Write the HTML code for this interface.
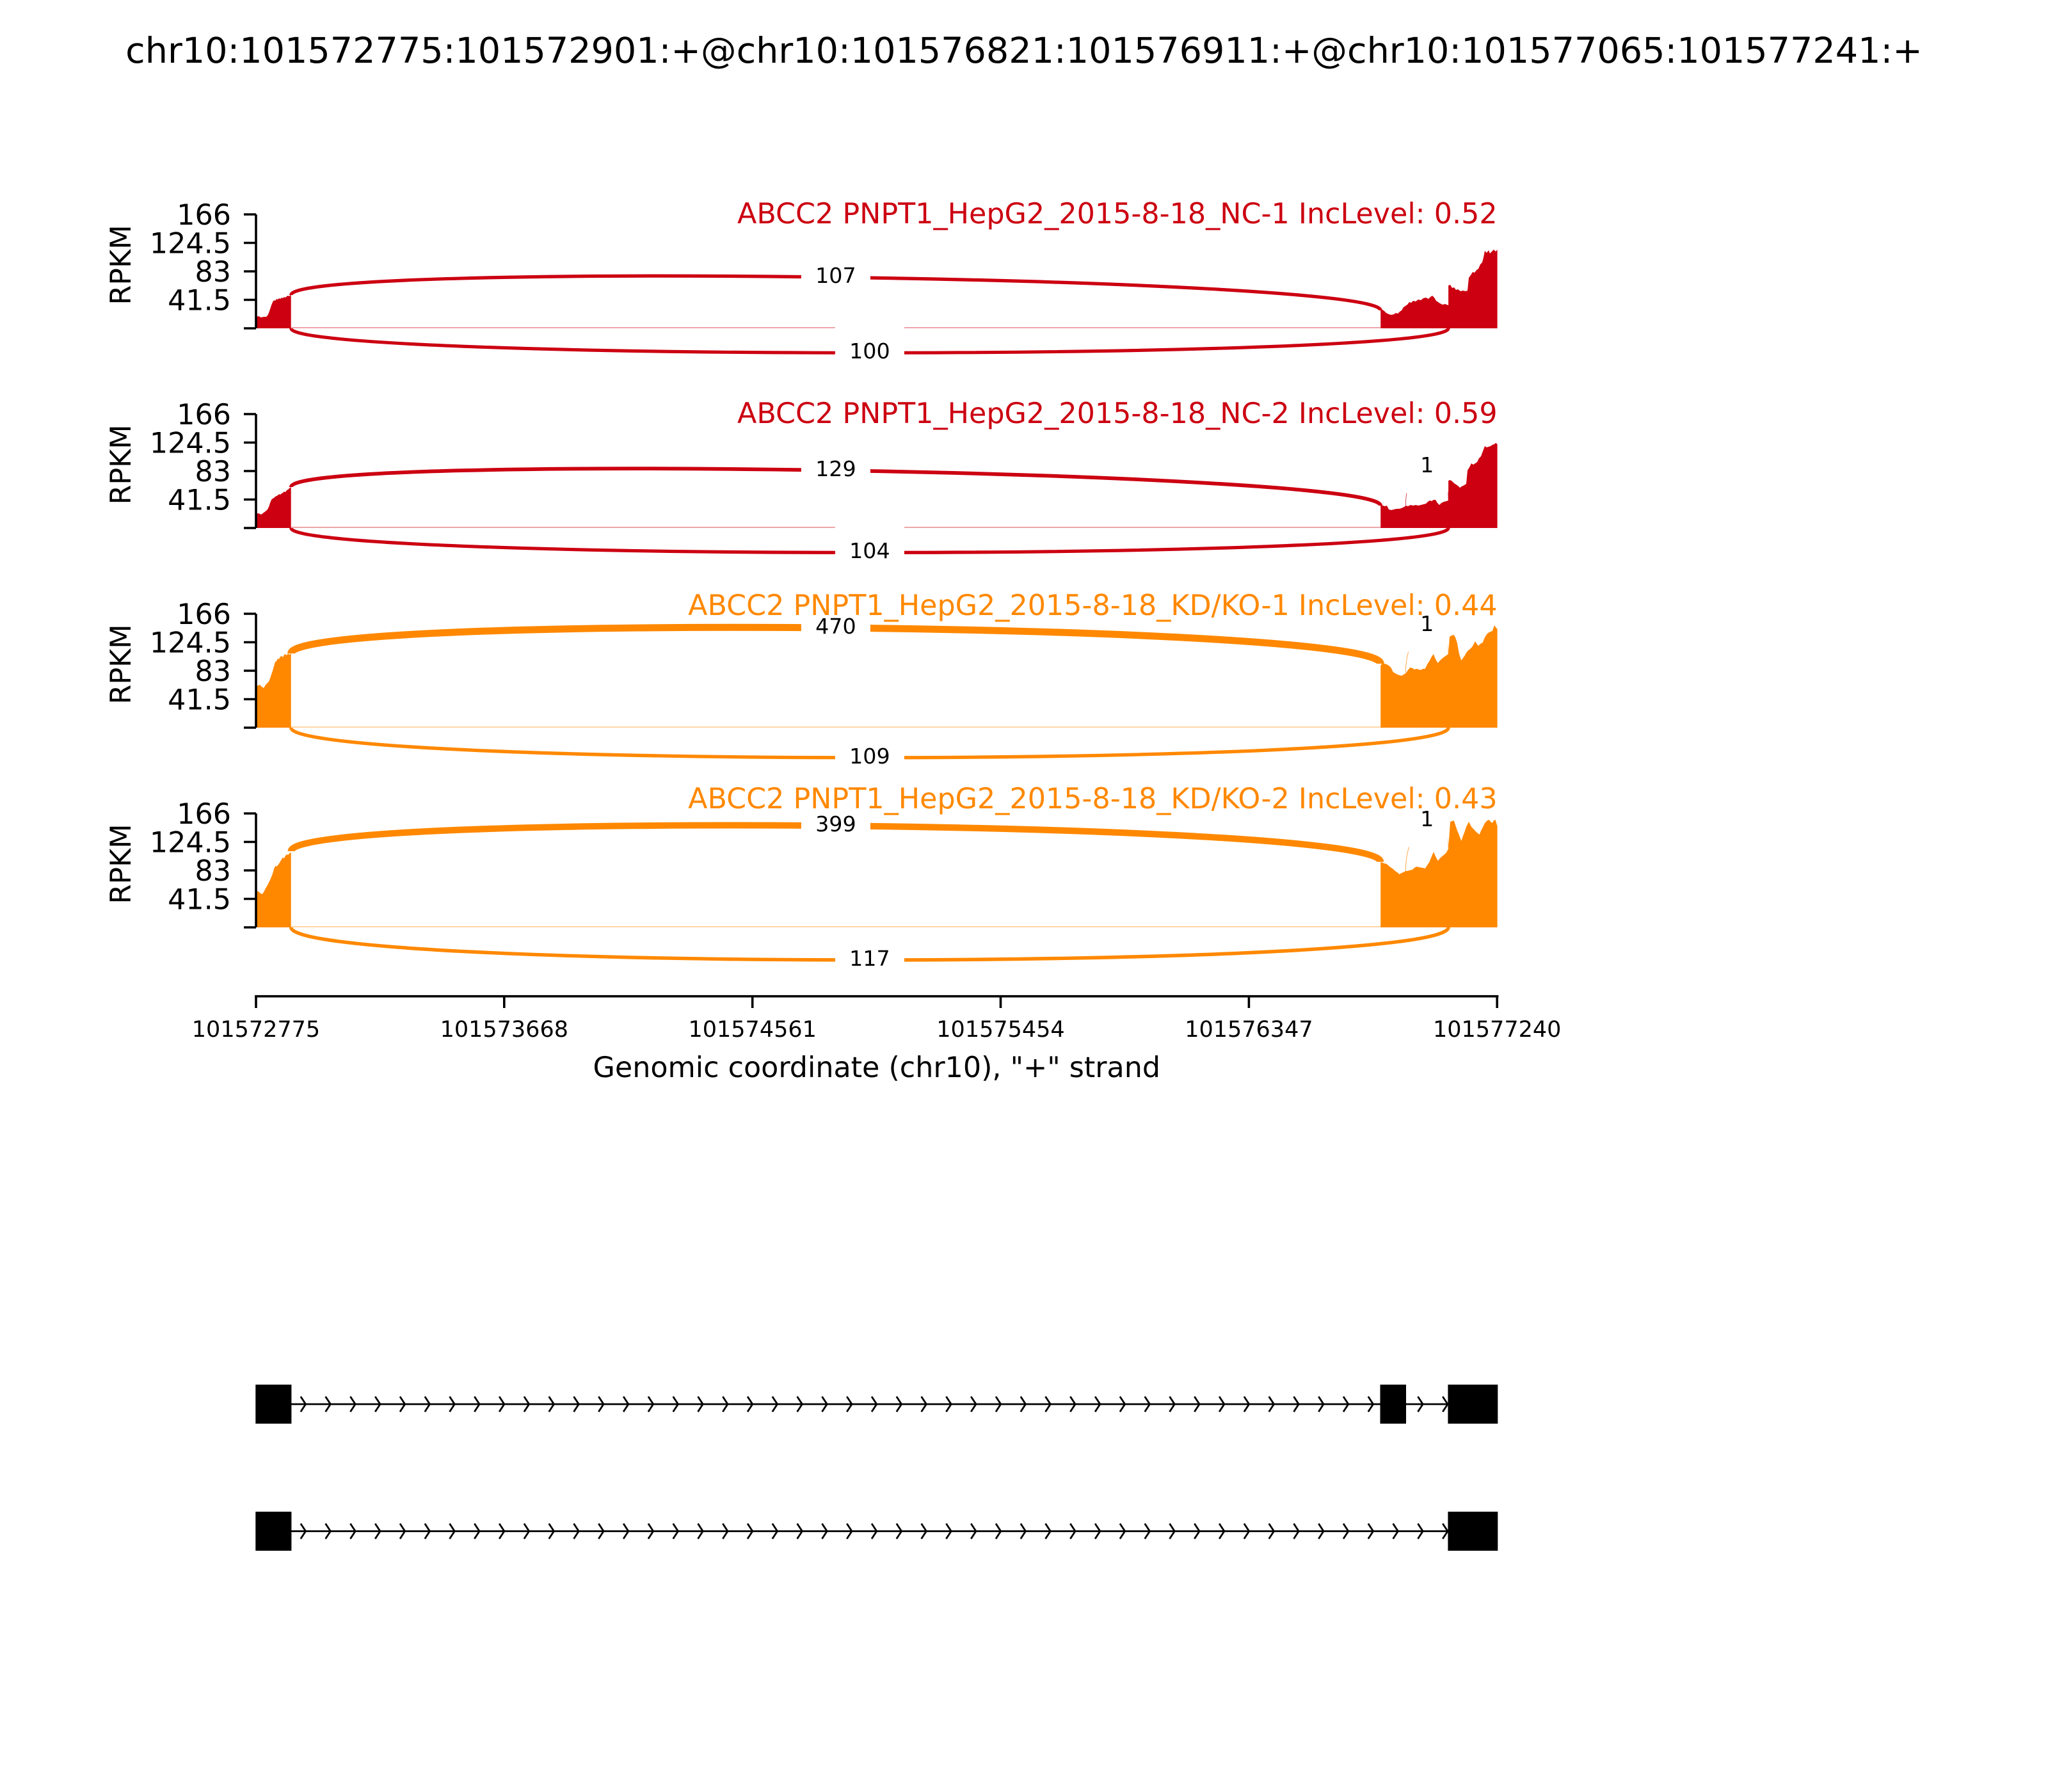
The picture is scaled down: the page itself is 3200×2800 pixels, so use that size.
<!DOCTYPE html>
<html>
<head>
<meta charset="utf-8">
<style>
  html, body { margin: 0; padding: 0; background: #ffffff; }
  svg { display: block; }
  text { font-family: "DejaVu Sans", "Liberation Sans", sans-serif; }
</style>
</head>
<body>
<svg xmlns="http://www.w3.org/2000/svg" width="3200" height="2800" viewBox="0 0 3200 2800">
  <rect x="0" y="0" width="3200" height="2800" fill="#ffffff"/>

  <!-- Title -->
  <text x="1600" y="98" font-size="55.6" text-anchor="middle" fill="#000">chr10:101572775:101572901:+@chr10:101576821:101576911:+@chr10:101577065:101577241:+</text>

  <!-- ================= PANEL 1 (zero 513) ================= -->
  <g fill="#CC0011" stroke="none">
    <path d="M400,513 L400,495 L404,494 L408,496 L412,495 L416,495 L418,493 L420,489 L422,483 L424,477 L426,472 L428,469 L430,470 L432,467 L434,468 L436,466 L438,467 L440,465 L442,466 L444,464 L446,465 L448,463 L450,462 L452,463 L454.7,460 L454.7,513 Z"/>
    <path d="M2157.2,513 L2157.2,485 L2160,484 L2163,486 L2166,489 L2170,491 L2174,492 L2178,491 L2181,489 L2184,490 L2187,487 L2190,485 L2193,480 L2196,478 L2199,476 L2202,472 L2205,473 L2208,470 L2212,471 L2216,468 L2220,469 L2224,466 L2228,465 L2232,467 L2235,464 L2238,462 L2241,465 L2244,470 L2247,472 L2250,474 L2254,476 L2258,475 L2263.1,477 L2263.1,446 L2266,445 L2269,450 L2272,449 L2275,453 L2278,452 L2282,455 L2286,454 L2290,455 L2293,454 L2295,434 L2298,430 L2301,425 L2304,426 L2307,422 L2310,420 L2313,413 L2316,410 L2318,402 L2320,392 L2323,395 L2326,391 L2328,396 L2331,393 L2334,390 L2337,393 L2339.6,390 L2339.6,513 Z"/>
  </g>
  <line x1="454.7" y1="512" x2="2157.2" y2="512" stroke="#CC0011" stroke-width="2" opacity="0.35"/>
  <g fill="none" stroke="#CC0011">
    <path d="M454.7,461 C454.7,408 2157.2,432 2157.2,485" stroke-width="5.25"/>
    <path d="M454.7,513 C454.7,564 2263.1,564 2263.1,513" stroke-width="5.07"/>
  </g>
  <rect x="1251.9" y="391.7" width="108" height="83" fill="#fff"/>
  <text x="1305.9" y="442" font-size="33.3" text-anchor="middle" fill="#000">107</text>
  <rect x="1304.9" y="509.7" width="108" height="83" fill="#fff"/>
  <text x="1358.9" y="560" font-size="33.3" text-anchor="middle" fill="#000">100</text>

  <!-- axis panel 1 -->
  <g stroke="#000" stroke-width="3.6" fill="none">
    <line x1="400" y1="335" x2="400" y2="513"/>
    <line x1="381" y1="335" x2="400" y2="335"/>
    <line x1="381" y1="379.5" x2="400" y2="379.5"/>
    <line x1="381" y1="424" x2="400" y2="424"/>
    <line x1="381" y1="468.5" x2="400" y2="468.5"/>
    <line x1="381" y1="513" x2="400" y2="513"/>
  </g>
  <g font-size="44.4" text-anchor="end" fill="#000">
    <text x="361" y="351">166</text>
    <text x="361" y="395.5">124.5</text>
    <text x="361" y="440">83</text>
    <text x="361" y="484.5">41.5</text>
  </g>
  <text transform="translate(204,414) rotate(-90)" font-size="44.4" text-anchor="middle" fill="#000">RPKM</text>
  <text x="2339.6" y="349" font-size="44.4" text-anchor="end" fill="#CC0011">ABCC2 PNPT1_HepG2_2015-8-18_NC-1 IncLevel: 0.52</text>

  <!-- ================= PANEL 2 (zero 825) ================= -->
  <g fill="#CC0011" stroke="none">
    <path d="M400,825 L400,803 L404,802 L408,804 L412,801 L416,798 L418,796 L420,792 L422,786 L424,781 L426,779 L428,778 L430,776 L432,775 L434,774 L436,772 L438,773 L440,771 L442,770 L444,768 L446,769 L448,766 L450,765 L452,763 L454.7,761 L454.7,825 Z"/>
    <path d="M2157.2,825 L2157.2,790 L2161,790 L2164,791 L2167,790 L2170,796 L2174,797 L2178,796 L2182,795 L2186,795 L2190,794 L2194,792 L2197,790 L2200,791 L2204,789 L2208,790 L2212,789 L2216,790 L2220,789 L2224,788 L2228,787 L2231,784 L2234,782 L2237,783 L2240,781 L2243,781 L2246,786 L2249,789 L2252,786 L2256,784 L2260,783 L2263.1,782 L2263.1,751 L2266,750 L2269,752 L2272,755 L2275,757 L2278,759 L2281,762 L2284,760 L2288,758 L2291,756 L2293,735 L2296,730 L2299,724 L2302,726 L2305,724 L2308,722 L2311,716 L2314,713 L2317,705 L2320,697 L2323,699 L2326,698 L2329,697 L2332,695 L2335,694 L2337,692 L2339.6,694 L2339.6,825 Z"/>
  </g>
  <line x1="454.7" y1="824" x2="2157.2" y2="824" stroke="#CC0011" stroke-width="2" opacity="0.35"/>
  <g fill="none" stroke="#CC0011">
    <path d="M454.7,761 C454.7,707 2157.2,736 2157.2,790" stroke-width="5.76"/>
    <path d="M454.7,825 C454.7,876.2 2263.1,876.2 2263.1,825" stroke-width="5.17"/>
    <path d="M2196.3,790 C2196.3,714 2263.1,706 2263.1,782" stroke-width="1" opacity="0.7"/>
  </g>
  <rect x="1251.9" y="693.5" width="108" height="83" fill="#fff"/>
  <text x="1305.9" y="744" font-size="33.3" text-anchor="middle" fill="#000">129</text>
  <rect x="1304.9" y="821.9" width="108" height="83" fill="#fff"/>
  <text x="1358.9" y="872" font-size="33.3" text-anchor="middle" fill="#000">104</text>
  <rect x="2196.9" y="687.5" width="65.6" height="83" fill="#fff"/>
  <text x="2229.7" y="738" font-size="33.3" text-anchor="middle" fill="#000">1</text>

  <g stroke="#000" stroke-width="3.6" fill="none">
    <line x1="400" y1="647" x2="400" y2="825"/>
    <line x1="381" y1="647" x2="400" y2="647"/>
    <line x1="381" y1="691.5" x2="400" y2="691.5"/>
    <line x1="381" y1="736" x2="400" y2="736"/>
    <line x1="381" y1="780.5" x2="400" y2="780.5"/>
    <line x1="381" y1="825" x2="400" y2="825"/>
  </g>
  <g font-size="44.4" text-anchor="end" fill="#000">
    <text x="361" y="663">166</text>
    <text x="361" y="707.5">124.5</text>
    <text x="361" y="752">83</text>
    <text x="361" y="796.5">41.5</text>
  </g>
  <text transform="translate(204,726) rotate(-90)" font-size="44.4" text-anchor="middle" fill="#000">RPKM</text>
  <text x="2339.6" y="661" font-size="44.4" text-anchor="end" fill="#CC0011">ABCC2 PNPT1_HepG2_2015-8-18_NC-2 IncLevel: 0.59</text>

  <!-- ================= PANEL 3 (zero 1137) ================= -->
  <g fill="#FF8800" stroke="none">
    <path d="M400,1137 L400,1073 L403,1071 L406,1070 L409,1073 L412,1075 L415,1070 L418,1067 L420,1065 L422,1060 L424,1054 L426,1048 L428,1041 L430,1034 L432,1033 L434,1029 L436,1030 L438,1026 L440,1025 L442,1027 L444,1023 L446,1022 L448,1024 L450,1021 L452,1023 L454.7,1021 L454.7,1137 Z"/>
    <path d="M2157.2,1137 L2157.2,1040 L2160,1036 L2163,1037 L2166.7,1038 L2170,1040 L2173.3,1043 L2176.7,1050 L2180,1052 L2183.3,1054 L2187,1055 L2190,1056 L2193,1054 L2196.7,1052 L2200,1047 L2203.3,1043 L2207,1044 L2210,1046 L2213.3,1045 L2217,1046 L2220,1047 L2223,1045 L2226.7,1045 L2230,1038 L2233.3,1033 L2237,1026 L2240,1022 L2243,1030 L2246.7,1036 L2250,1032 L2253.3,1029 L2257,1026 L2260,1024 L2263.1,1022 L2265,995 L2268,993 L2271.7,992 L2274,996 L2276.7,1004 L2280,1022 L2283.3,1032 L2286,1028 L2288.3,1025 L2291,1020 L2293.3,1017 L2297,1014 L2300,1011 L2303,1006 L2305,1002 L2308,1007 L2310,1009 L2313,1006 L2316.7,1004 L2319,998 L2321.7,993 L2324,990 L2326.7,988 L2329,987 L2331.7,986 L2334,980 L2335,977 L2337,980 L2339.6,983 L2339.6,1137 Z"/>
  </g>
  <line x1="454.7" y1="1136" x2="2157.2" y2="1136" stroke="#FF8800" stroke-width="2" opacity="0.35"/>
  <g fill="none" stroke="#FF8800">
    <path d="M454.7,1021 C454.7,957 2157.2,973 2157.2,1037" stroke-width="11"/>
    <path d="M454.7,1137 C454.7,1199.4 2263.1,1199.4 2263.1,1137" stroke-width="5.3"/>
    <path d="M2196.3,1052 C2196.3,971 2263.1,942 2263.1,1023" stroke-width="1" opacity="0.7"/>
  </g>
  <rect x="1251.9" y="939.5" width="108" height="83" fill="#fff"/>
  <text x="1305.9" y="990" font-size="33.3" text-anchor="middle" fill="#000">470</text>
  <rect x="1304.9" y="1142.3" width="108" height="83" fill="#fff"/>
  <text x="1358.9" y="1193" font-size="33.3" text-anchor="middle" fill="#000">109</text>
  <rect x="2196.9" y="935.5" width="65.6" height="83" fill="#fff"/>
  <text x="2229.7" y="986" font-size="33.3" text-anchor="middle" fill="#000">1</text>

  <g stroke="#000" stroke-width="3.6" fill="none">
    <line x1="400" y1="959" x2="400" y2="1137"/>
    <line x1="381" y1="959" x2="400" y2="959"/>
    <line x1="381" y1="1003.5" x2="400" y2="1003.5"/>
    <line x1="381" y1="1048" x2="400" y2="1048"/>
    <line x1="381" y1="1092.5" x2="400" y2="1092.5"/>
    <line x1="381" y1="1137" x2="400" y2="1137"/>
  </g>
  <g font-size="44.4" text-anchor="end" fill="#000">
    <text x="361" y="975">166</text>
    <text x="361" y="1019.5">124.5</text>
    <text x="361" y="1064">83</text>
    <text x="361" y="1108.5">41.5</text>
  </g>
  <text transform="translate(204,1038) rotate(-90)" font-size="44.4" text-anchor="middle" fill="#000">RPKM</text>
  <text x="2339.6" y="961" font-size="44.4" text-anchor="end" fill="#FF8800">ABCC2 PNPT1_HepG2_2015-8-18_KD/KO-1 IncLevel: 0.44</text>

  <!-- ================= PANEL 4 (zero 1449) ================= -->
  <g fill="#FF8800" stroke="none">
    <path d="M400,1449 L400,1392 L404,1393 L407,1396 L410,1397 L413,1392 L415,1388 L418,1383 L421,1377 L423.3,1372 L426,1365 L428,1358 L430,1353 L432,1354 L435,1351 L438,1346 L441.7,1340 L444,1341 L446,1337 L448.3,1335 L450,1336 L452.7,1333 L454.7,1332 L454.7,1449 Z"/>
    <path d="M2157.2,1449 L2157.2,1347 L2160,1348 L2163,1349 L2166.7,1350 L2170,1353 L2173.3,1355.5 L2177,1358 L2180,1361 L2183,1363 L2186.7,1366 L2190,1364 L2193.3,1362.6 L2196,1361 L2198.3,1361 L2202,1360 L2206.7,1359 L2210,1356 L2213.3,1354 L2217,1355 L2220,1355.5 L2223,1356 L2226.7,1357 L2230,1352 L2233.3,1347 L2237,1338 L2240,1331 L2243,1338 L2246.7,1345 L2250,1341 L2253.3,1338 L2257,1335 L2260,1332 L2263.1,1326 L2266,1284 L2269,1283 L2271.7,1282 L2274,1289 L2276.7,1297 L2280,1305 L2283.3,1314 L2286,1306 L2288.3,1300 L2291,1292 L2295,1284 L2298,1290 L2300,1293 L2303,1296 L2306.7,1300 L2309,1302 L2311.7,1304 L2314,1298 L2316.7,1293 L2319,1288 L2321.7,1284 L2324,1282 L2326.7,1281 L2329,1284 L2331.7,1286 L2334,1282 L2336.7,1281 L2338,1286 L2339.6,1291 L2339.6,1449 Z"/>
  </g>
  <line x1="454.7" y1="1448" x2="2157.2" y2="1448" stroke="#FF8800" stroke-width="2" opacity="0.35"/>
  <g fill="none" stroke="#FF8800">
    <path d="M454.7,1330 C454.7,1266 2157.2,1282.6 2157.2,1346.6" stroke-width="10.1"/>
    <path d="M454.7,1449 C454.7,1517 2263.1,1517 2263.1,1449" stroke-width="5.48"/>
    <path d="M2196.3,1361 C2196.3,1280 2263.1,1244 2263.1,1325" stroke-width="1" opacity="0.7"/>
  </g>
  <rect x="1251.9" y="1248.8" width="108" height="83" fill="#fff"/>
  <text x="1305.9" y="1299" font-size="33.3" text-anchor="middle" fill="#000">399</text>
  <rect x="1304.9" y="1458.5" width="108" height="83" fill="#fff"/>
  <text x="1358.9" y="1509" font-size="33.3" text-anchor="middle" fill="#000">117</text>
  <rect x="2196.9" y="1240.5" width="65.6" height="83" fill="#fff"/>
  <text x="2229.7" y="1291" font-size="33.3" text-anchor="middle" fill="#000">1</text>

  <g stroke="#000" stroke-width="3.6" fill="none">
    <line x1="400" y1="1271" x2="400" y2="1449"/>
    <line x1="381" y1="1271" x2="400" y2="1271"/>
    <line x1="381" y1="1315.5" x2="400" y2="1315.5"/>
    <line x1="381" y1="1360" x2="400" y2="1360"/>
    <line x1="381" y1="1404.5" x2="400" y2="1404.5"/>
    <line x1="381" y1="1449" x2="400" y2="1449"/>
  </g>
  <g font-size="44.4" text-anchor="end" fill="#000">
    <text x="361" y="1287">166</text>
    <text x="361" y="1331.5">124.5</text>
    <text x="361" y="1376">83</text>
    <text x="361" y="1420.5">41.5</text>
  </g>
  <text transform="translate(204,1350) rotate(-90)" font-size="44.4" text-anchor="middle" fill="#000">RPKM</text>
  <text x="2339.6" y="1263" font-size="44.4" text-anchor="end" fill="#FF8800">ABCC2 PNPT1_HepG2_2015-8-18_KD/KO-2 IncLevel: 0.43</text>

  <!-- ================= X axis ================= -->
  <g stroke="#000" stroke-width="3.6" fill="none">
    <line x1="398.2" y1="1556.7" x2="2341.4" y2="1556.7"/>
    <line x1="400" y1="1556.7" x2="400" y2="1575"/>
    <line x1="787.8" y1="1556.7" x2="787.8" y2="1575"/>
    <line x1="1175.7" y1="1556.7" x2="1175.7" y2="1575"/>
    <line x1="1563.5" y1="1556.7" x2="1563.5" y2="1575"/>
    <line x1="1951.4" y1="1556.7" x2="1951.4" y2="1575"/>
    <line x1="2339.2" y1="1556.7" x2="2339.2" y2="1575"/>
  </g>
  <g font-size="35" text-anchor="middle" fill="#000">
    <text x="400" y="1620">101572775</text>
    <text x="787.8" y="1620">101573668</text>
    <text x="1175.7" y="1620">101574561</text>
    <text x="1563.5" y="1620">101575454</text>
    <text x="1951.4" y="1620">101576347</text>
    <text x="2339.2" y="1620">101577240</text>
  </g>
  <text x="1369.8" y="1683" font-size="44.4" text-anchor="middle" fill="#000">Genomic coordinate (chr10), "+" strand</text>

  <!-- ================= Gene structures ================= -->
  <g stroke="#000" stroke-width="2.8" fill="none">
    <line x1="400" y1="2194" x2="2339.6" y2="2194"/>
    <line x1="400" y1="2392.5" x2="2339.6" y2="2392.5"/>
  </g>
  <!-- arrows -->
  <g stroke="#000" stroke-width="2.8" fill="none" id="arr1">
    <polyline points="469.8,2182.1 477.6,2194 469.8,2205.9"/>
    <polyline points="508.6,2182.1 516.4,2194 508.6,2205.9"/>
    <polyline points="547.4,2182.1 555.2,2194 547.4,2205.9"/>
    <polyline points="586.2,2182.1 594.0,2194 586.2,2205.9"/>
    <polyline points="625.0,2182.1 632.7,2194 625.0,2205.9"/>
    <polyline points="663.8,2182.1 671.5,2194 663.8,2205.9"/>
    <polyline points="702.5,2182.1 710.3,2194 702.5,2205.9"/>
    <polyline points="741.3,2182.1 749.1,2194 741.3,2205.9"/>
    <polyline points="780.1,2182.1 787.9,2194 780.1,2205.9"/>
    <polyline points="818.9,2182.1 826.7,2194 818.9,2205.9"/>
    <polyline points="857.7,2182.1 865.5,2194 857.7,2205.9"/>
    <polyline points="896.5,2182.1 904.3,2194 896.5,2205.9"/>
    <polyline points="935.3,2182.1 943.1,2194 935.3,2205.9"/>
    <polyline points="974.1,2182.1 981.9,2194 974.1,2205.9"/>
    <polyline points="1012.9,2182.1 1020.7,2194 1012.9,2205.9"/>
    <polyline points="1051.7,2182.1 1059.5,2194 1051.7,2205.9"/>
    <polyline points="1090.5,2182.1 1098.2,2194 1090.5,2205.9"/>
    <polyline points="1129.3,2182.1 1137.0,2194 1129.3,2205.9"/>
    <polyline points="1168.0,2182.1 1175.8,2194 1168.0,2205.9"/>
    <polyline points="1206.8,2182.1 1214.6,2194 1206.8,2205.9"/>
    <polyline points="1245.6,2182.1 1253.4,2194 1245.6,2205.9"/>
    <polyline points="1284.4,2182.1 1292.2,2194 1284.4,2205.9"/>
    <polyline points="1323.2,2182.1 1331.0,2194 1323.2,2205.9"/>
    <polyline points="1362.0,2182.1 1369.8,2194 1362.0,2205.9"/>
    <polyline points="1400.8,2182.1 1408.6,2194 1400.8,2205.9"/>
    <polyline points="1439.6,2182.1 1447.4,2194 1439.6,2205.9"/>
    <polyline points="1478.4,2182.1 1486.2,2194 1478.4,2205.9"/>
    <polyline points="1517.2,2182.1 1525.0,2194 1517.2,2205.9"/>
    <polyline points="1556.0,2182.1 1563.7,2194 1556.0,2205.9"/>
    <polyline points="1594.8,2182.1 1602.5,2194 1594.8,2205.9"/>
    <polyline points="1633.5,2182.1 1641.3,2194 1633.5,2205.9"/>
    <polyline points="1672.3,2182.1 1680.1,2194 1672.3,2205.9"/>
    <polyline points="1711.1,2182.1 1718.9,2194 1711.1,2205.9"/>
    <polyline points="1749.9,2182.1 1757.7,2194 1749.9,2205.9"/>
    <polyline points="1788.7,2182.1 1796.5,2194 1788.7,2205.9"/>
    <polyline points="1827.5,2182.1 1835.3,2194 1827.5,2205.9"/>
    <polyline points="1866.3,2182.1 1874.1,2194 1866.3,2205.9"/>
    <polyline points="1905.1,2182.1 1912.9,2194 1905.1,2205.9"/>
    <polyline points="1943.9,2182.1 1951.7,2194 1943.9,2205.9"/>
    <polyline points="1982.7,2182.1 1990.5,2194 1982.7,2205.9"/>
    <polyline points="2021.5,2182.1 2029.2,2194 2021.5,2205.9"/>
    <polyline points="2060.3,2182.1 2068.0,2194 2060.3,2205.9"/>
    <polyline points="2099.0,2182.1 2106.8,2194 2099.0,2205.9"/>
    <polyline points="2137.8,2182.1 2145.6,2194 2137.8,2205.9"/>
    <polyline points="2176.6,2182.1 2184.4,2194 2176.6,2205.9"/>
    <polyline points="2215.4,2182.1 2223.2,2194 2215.4,2205.9"/>
    <polyline points="2254.2,2182.1 2262.0,2194 2254.2,2205.9"/>
    <polyline points="2293.0,2182.1 2300.8,2194 2293.0,2205.9"/>
  </g>
  <use href="#arr1" transform="translate(0,198.5)"/>

  <!-- exons -->
  <g fill="#000" stroke="#000" stroke-width="1.4">
    <rect x="400" y="2164.2" width="54.7" height="59.6"/>
    <rect x="2157.2" y="2164.2" width="39.1" height="59.6"/>
    <rect x="2263.1" y="2164.2" width="76.5" height="59.6"/>
    <rect x="400" y="2362.7" width="54.7" height="59.6"/>
    <rect x="2263.1" y="2362.7" width="76.5" height="59.6"/>
  </g>
</svg>
</body>
</html>
